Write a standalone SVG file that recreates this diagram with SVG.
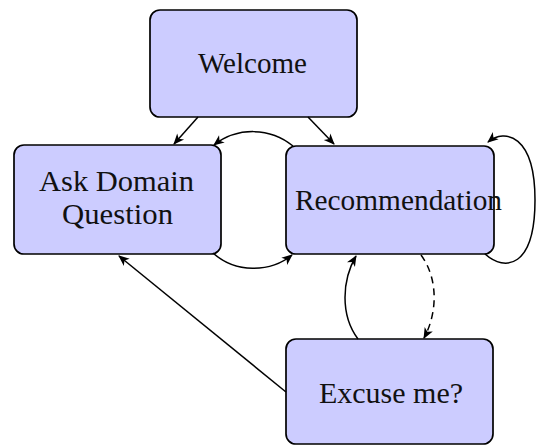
<svg xmlns="http://www.w3.org/2000/svg" width="536" height="446" viewBox="0 0 536 446">
  <style>
    .box { fill: #ccccff; stroke: #000; stroke-width: 1.7; }
    .lbl { font-family: "Liberation Serif", "DejaVu Serif", serif; font-size: 29px; fill: #111; }
    .edge { fill: none; stroke: #000; stroke-width: 1.5; marker-end: url(#tip); }
    .dash { stroke-dasharray: 7 5; }
  </style>
  <defs>
    <marker id="tip" markerUnits="userSpaceOnUse" markerWidth="14" markerHeight="12" viewBox="-11 -6 14 12" refX="0" refY="0" orient="auto" overflow="visible">
      <path d="M1,0 L-10,-4.6 L-7,0 L-10,4.6 Z" fill="#000"/>
    </marker>
  </defs>

  <!-- nodes -->
  <g id="welcome">
    <rect class="box" x="150" y="10" width="207" height="107" rx="10"/>
    <text class="lbl" x="198" y="73" textLength="109" lengthAdjust="spacingAndGlyphs">Welcome</text>
  </g>
  <g id="ask-domain">
    <rect class="box" x="14" y="145" width="207" height="109" rx="10"/>
    <text class="lbl" x="39" y="191" textLength="155" lengthAdjust="spacingAndGlyphs">Ask Domain</text>
    <text class="lbl" x="62" y="223.5" textLength="111" lengthAdjust="spacingAndGlyphs">Question</text>
  </g>
  <g id="recommendation">
    <rect class="box" x="286" y="146" width="208" height="108" rx="10"/>
    <text class="lbl" x="295" y="210" textLength="207" lengthAdjust="spacingAndGlyphs">Recommendation</text>
  </g>
  <g id="excuse">
    <rect class="box" x="286" y="339" width="207" height="105" rx="10"/>
    <text class="lbl" x="319" y="403" textLength="144" lengthAdjust="spacingAndGlyphs">Excuse me?</text>
  </g>

  <!-- connectors -->
  <g id="edges">
    <path class="edge" d="M198,117 L174,144"/>
    <path class="edge" d="M308,117 L334,144"/>
    <path class="edge" d="M293,146 C270,127 237,127 214,145"/>
    <path class="edge" d="M213,253 C235,273 270,273 292,255"/>
    <path class="edge" d="M485,254 C505,272 535,268 535,200 C535,135 505,128 488,142"/>
    <path class="edge" d="M358,339 C340,315 342,280 356,256"/>
    <path class="edge dash" d="M421,255 C438,278 438,312 424,338"/>
    <path class="edge" d="M286,392 L119,256"/>
  </g>
</svg>
